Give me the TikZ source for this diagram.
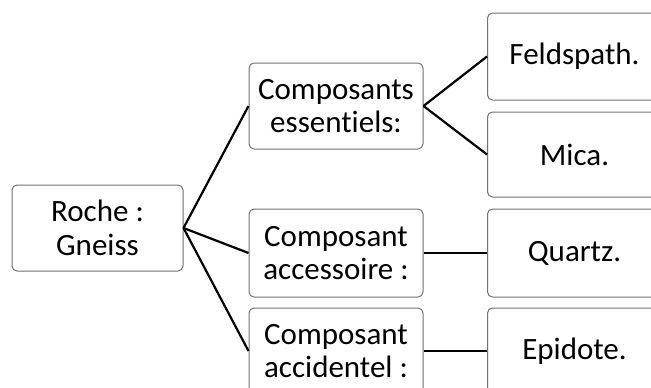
\documentclass[tikz,border=0pt]{standalone}
\usepackage{fontspec}
\setmainfont{Carlito}[Ligatures=NoCommon]
\begin{document}
\begin{tikzpicture}[x=1pt,y=-1pt,
  box/.style={draw=black!55,line width=1pt,rounded corners=5pt,fill=white,
    minimum width=#1,align=center,inner sep=0pt,
    font=\fontsize{31}{33.5}\selectfont},
  box/.default=174pt,
  link/.style={line width=2.2pt,black}]
\useasboundingbox (0,0) rectangle (651,388);
\clip (0,0) rectangle (651,388);
\node[box=171pt,minimum height=86pt] (roche) at (97.5,228) {Roche :\\Gneiss};
\node[box,minimum height=86pt] (ess) at (336,106) {Composants\\essentiels:};
\node[box,minimum height=88pt] (acc) at (336,253) {Composant\\accessoire :};
\node[box,minimum height=86pt] (acd) at (336,351) {Composant\\accidentel :};
\node[box,minimum height=87pt] (feld) at (574.5,56.5) {Feldspath.};
\node[box,minimum height=85pt] (mica) at (574.5,154.5) {Mica.};
\node[box,minimum height=88pt] (quartz) at (574.5,253) {Quartz.};
\node[box,minimum height=86pt] (epi) at (574.5,351) {Epidote.};
\draw[link] (roche.east) -- (ess.west);
\draw[link] (roche.east) -- (acc.west);
\draw[link] (roche.east) -- (acd.west);
\draw[link] (ess.east) -- (feld.west);
\draw[link] (ess.east) -- (mica.west);
\draw[link] (acc.east) -- (quartz.west);
\draw[link] (acd.east) -- (epi.west);
\end{tikzpicture}
\end{document}
